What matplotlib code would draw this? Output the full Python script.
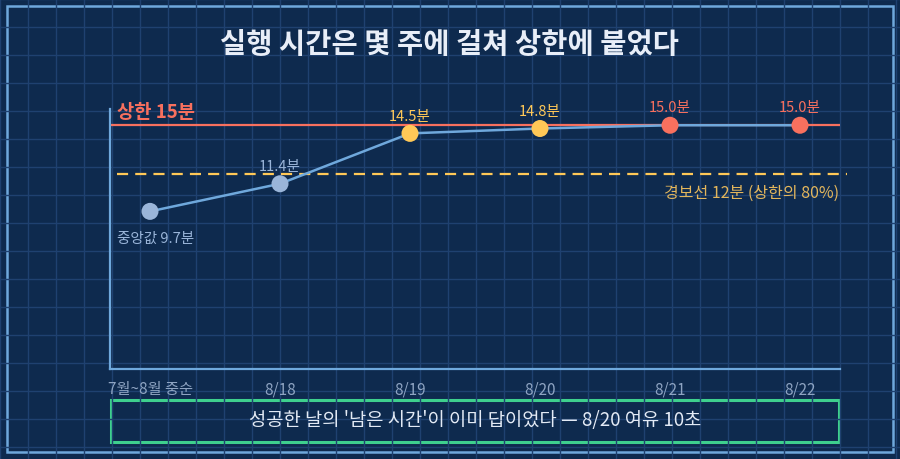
import matplotlib
matplotlib.use("Agg")
import matplotlib.pyplot as plt
from matplotlib.patches import Rectangle
from matplotlib.lines import Line2D

plt.rcParams['font.family'] = ['Noto Sans CJK KR', 'DejaVu Sans']

# ---- data ----
categories = ["7월~8월 중순", "8/18", "8/19", "8/20", "8/21", "8/22"]
run_minutes = [9.7, 11.4, 14.5, 14.8, 15.0, 15.0]
point_labels = ["중앙값 9.7분", "11.4분", "14.5분", "14.8분", "15.0분", "15.0분"]
cap_minutes = 15
warn_minutes = 12
title = "실행 시간은 몇 주에 걸쳐 상한에 붙었다"
cap_label = "상한 15분"
warn_label = "경보선 12분 (상한의 80%)"
note = "성공한 날의 '남은 시간'이 이미 답이었다 — 8/20 여유 10초"

# ---- style ----
BG = "#0e2a4e"
GRID = "#1f4170"
FRAME = "#6fa8dc"
LINE = "#6fa8dc"
GREY = "#9ab5d9"
YELLOW = "#ffc857"
RED = "#f8705e"
GREEN = "#3ecf8e"
TICK = "#8ea4c2"

W, H = 900, 460
fig = plt.figure(figsize=(9, 4.6), dpi=100, facecolor=BG)

# background grid / frame (pixel coords)
bg = fig.add_axes([0, 0, 1, 1], zorder=0)
bg.set_xlim(0, W)
bg.set_ylim(H, 0)
bg.axis("off")
bg.set_facecolor(BG)
for gx in range(0, W + 1, 28):
    bg.axvline(gx, color=GRID, lw=1.0)
for gy in range(0, H + 1, 28):
    bg.axhline(gy, color=GRID, lw=1.0)
bg.add_patch(Rectangle((7, 7), 886, 446, fill=False, ec=FRAME, lw=1.8))
bg.add_patch(Rectangle((111, 401), 728, 42, fill=False, ec=GREEN, lw=2.2))
bg.text(475, 421, note, ha="center", va="center", fontsize=13.5, color="#e3eaf5")
bg.text(450, 45, title, ha="center", va="center", fontsize=20.5,
        fontweight="bold", color="#e8eef8")

# main axes
ax = fig.add_axes([110 / W, 1 - 370 / H, 730 / W, 260 / H], zorder=1)
ax.patch.set_alpha(0)
x = list(range(len(categories)))
ax.set_xlim(-40 / 130, len(categories) - 1 + 40 / 130)
ax.set_ylim(0, 16)

for s in ["top", "right"]:
    ax.spines[s].set_visible(False)
for s in ["left", "bottom"]:
    ax.spines[s].set_color(FRAME)
    ax.spines[s].set_linewidth(1.6)
ax.set_yticks([])
ax.set_xticks(x)
ax.set_xticklabels(categories, fontsize=11, color=TICK)
ax.tick_params(axis="x", length=0, pad=8)

# cap line
ax.axhline(cap_minutes, color=RED, lw=1.6, zorder=2)
ax.text(-0.255, cap_minutes + 0.85, cap_label, ha="left", va="center",
        fontsize=13.5, fontweight="bold", color=RED)

# warning line
ax.add_line(Line2D([-0.255, 5.36], [warn_minutes, warn_minutes], color=YELLOW,
                   lw=1.6, ls=(0, (5, 3.2)), zorder=2, clip_on=False))
ax.text(5.3, warn_minutes - 1.1, warn_label, ha="right", va="center",
        fontsize=11.5, color="#e3b65c")

# data line
ax.plot(x, run_minutes, color=LINE, lw=1.8, zorder=3)
mcolors = []
for v in run_minutes:
    if v >= cap_minutes:
        mcolors.append(RED)
    elif v >= warn_minutes:
        mcolors.append(YELLOW)
    else:
        mcolors.append(GREY)
ax.scatter(x, run_minutes, s=150, c=mcolors, zorder=4, linewidths=0)

for i, (v, lab, c) in enumerate(zip(run_minutes, point_labels, mcolors)):
    if i == 0:
        ax.text(i + 0.04, v - 1.6, lab, ha="center", va="center",
                fontsize=10.5, color=c)
    else:
        ax.text(i, v + 1.1, lab, ha="center", va="center",
                fontsize=10.5, color=c)

fig.savefig("out.png", dpi=100, facecolor=BG)
